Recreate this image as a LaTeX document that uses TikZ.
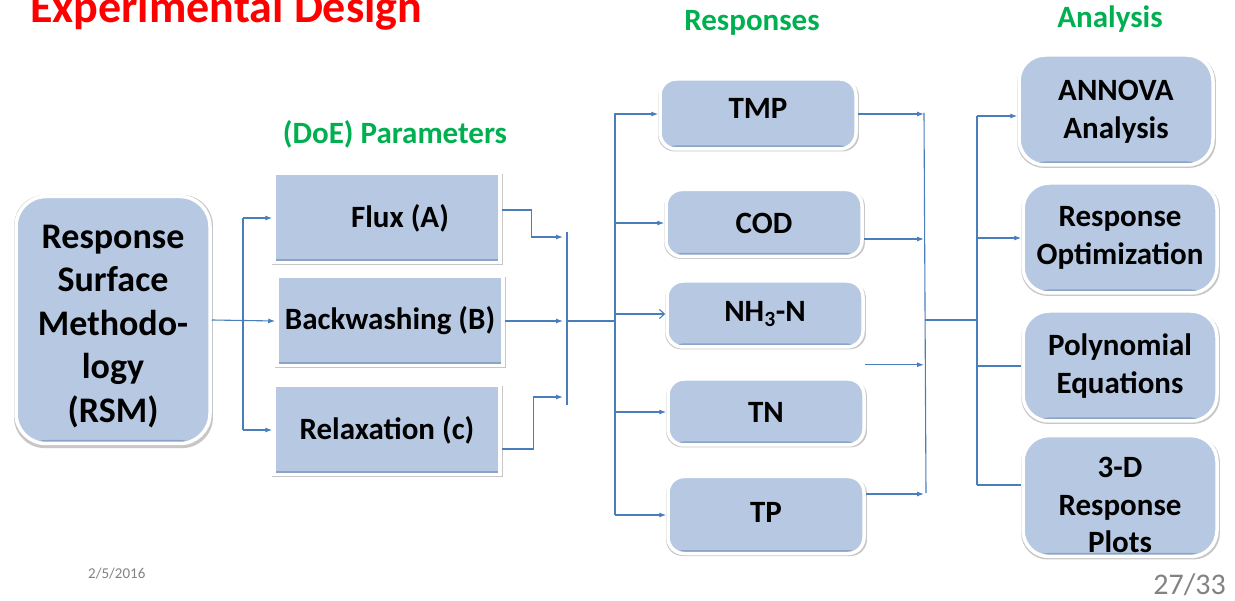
\documentclass[tikz,border=0pt]{standalone}
\usepackage{fontspec}
\setmainfont{Carlito}
\usepackage{tikz}
\usetikzlibrary{arrows.meta,shadows}
\definecolor{boxfill}{RGB}{183,201,226}
\definecolor{boxedge}{RGB}{140,162,198}
\definecolor{linkblue}{RGB}{74,126,187}
\definecolor{headgreen}{RGB}{0,176,80}
\definecolor{footgray}{RGB}{130,130,130}

\tikzset{
  blok/.style={draw=white, line width=3.5pt, fill=boxfill, align=center,
    font=\bfseries\fontsize{31}{38}\selectfont,
    general shadow={fill=black, opacity=0.22, shadow xshift=0.5pt, shadow yshift=-1.5pt, shadow scale=1.025},
    path picture={\fill[boxedge] ([yshift=-2pt]path picture bounding box.south west) rectangle ([yshift=3.5pt]path picture bounding box.south east);}},
  parbox/.style={blok, rounded corners=0pt},
  resbox/.style={blok, rounded corners=16pt, minimum width=196pt},
  anabox/.style={blok, rounded corners=26pt, minimum width=194pt, minimum height=110pt},
  head/.style={text=headgreen, font=\bfseries\fontsize{31}{34}\selectfont},
  link/.style={draw=linkblue, line width=1.1pt},
  arr/.style={link, -{Latex[length=7pt,width=5pt]}},
  openarr/.style={link, -{Straight Barb[length=5pt,width=9pt]}}
}

\begin{document}
\begin{tikzpicture}[x=1pt,y=-1pt]
\useasboundingbox (0,0) rectangle (1235,601);

% titles
\node[anchor=base west, text=red, font=\bfseries\fontsize{46}{48}\selectfont, inner sep=0] (title) at (30,23) {Experimental Design};
\node[head, anchor=base, inner sep=0] (hpar) at (395,144) {(DoE) Parameters};
\node[head, anchor=base, inner sep=0] (hres) at (752,31) {Responses};
\node[head, anchor=base, inner sep=0] (hana) at (1110,28) {Analysis};

% boxes
\node[blok, rounded corners=30pt, minimum width=194pt, minimum height=247pt,
      font=\bfseries\fontsize{36}{43.5}\selectfont] (rsm) at (113,320) {\rule{0pt}{36pt}Response\\Surface\\Methodo-\\logy\\(RSM)};

\node[parbox, minimum width=226pt, minimum height=89pt] (flux) at (387,218) {\hspace*{26pt}Flux (A)};
\node[parbox, minimum width=226pt, minimum height=89pt] (back) at (390,321) {Backwashing (B)};
\node[parbox, minimum width=226pt, minimum height=89pt] (relax) at (387,430) {Relaxation (c)};

\node[resbox, minimum height=70pt] (tmp) at (758,114) {TMP\rule[-12pt]{0pt}{1pt}};
\node[resbox, minimum height=67pt] (cod) at (764,223) {COD};
\node[resbox, minimum height=66pt] (nh3) at (765,314) {NH\textsubscript{3}-N};
\node[resbox, minimum height=66pt] (tn) at (766,412) {TN};
\node[resbox, minimum height=77pt] (tp) at (766,515) {TP\rule[-5pt]{0pt}{1pt}};

\node[anabox] (annova) at (1116,110) {\rule{0pt}{24pt}ANNOVA\\Analysis};
\node[anabox] (opt) at (1120,238) {Response\\Optimization};
\node[anabox] (poly) at (1120,366) {Polynomial\\Equations};
\node[anabox, font=\bfseries\fontsize{31}{37.5}\selectfont] (plots) at (1120,496) {\rule{0pt}{39pt}3-D\\Response\\Plots};

% left fan
\coordinate (s1) at (243,321);
\draw[arr] (rsm.east) -- (back.west);
\draw[link] (s1 |- flux.west) -- (s1 |- relax.west);
\draw[arr] (s1 |- flux.west) -- (flux.west);
\draw[arr] (s1 |- relax.west) -- (relax.west);

% parameters to responses
\coordinate (b1top) at (567,232);
\coordinate (b1bot) at (567,405);
\coordinate (b1mid) at (567,321);
\draw[link] (b1top) -- (b1bot);
\draw[arr] ([yshift=8pt]flux.east) -- ++(30,0) |- (563,237);
\draw[arr] (back.east) -- (563,321);
\draw[arr] ([yshift=-19pt]relax.east) -- ++(32,0) |- (563,397);

\coordinate (b2top) at (615,113);
\coordinate (b2bot) at (615,515);
\draw[link] (b1mid) -- (b1mid -| b2top);
\draw[link] (b2top) -- (b2bot);
\draw[arr] (b2top |- tmp.west) -- (tmp.west);
\draw[arr] (b2top |- cod.west) -- (cod.west);
\draw[openarr] (b2top |- nh3.west) -- (nh3.west);
\draw[arr] (b2top |- tn.west) -- (tn.west);
\draw[arr] (b2top |- tp.west) -- (tp.west);

% responses to analysis
\coordinate (b3top) at (924,113);
\coordinate (b3bot) at (926,493);
\coordinate (b3mid) at (925,320);
\draw[link] (b3top) -- (b3bot);
\draw[arr] (tmp.east) -- (tmp.east -| b3top);
\draw[arr] ([yshift=-16pt]cod.east) -- ([yshift=-16pt]cod.east -| b3top);
\draw[arr] ([yshift=-16pt]nh3.south east) -- ([yshift=-16pt]nh3.south east -| b3top);
\draw[arr] ([yshift=21pt]tp.east) -- ([yshift=21pt]tp.east -| b3top);

\coordinate (b4top) at (977,116);
\coordinate (b4bot) at (977,485);
\draw[link] (b3mid) -- (b3mid -| b4top);
\draw[link] (b4top) -- (b4bot);
\draw[arr] (b4top) -- (b4top -| annova.west);
\draw[arr] (b4top |- opt.west) -- (opt.west);
\draw[link] (b4top |- poly.west) -- (poly.west);
\draw[link] (b4bot) -- (b4bot -| plots.west);

% footer
\node[anchor=base west, text=footgray, font=\fontsize{15}{17}\selectfont, inner sep=0] (date) at (88,578) {2/5/2016};
\node[anchor=base east, text=footgray, font=\fontsize{30}{32}\selectfont, inner sep=0] (page) at (1226,594) {27/33};
\end{tikzpicture}
\end{document}
